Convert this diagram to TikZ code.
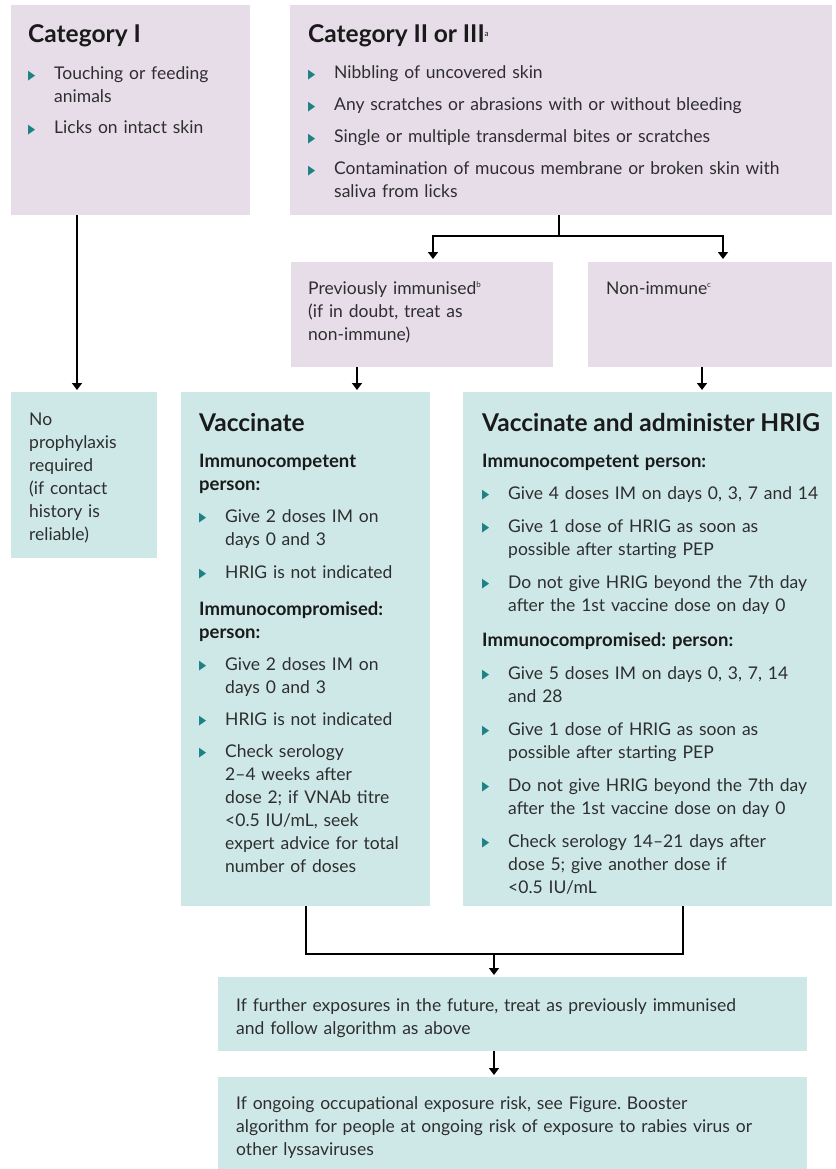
\documentclass[tikz,border=0pt]{standalone}
\usepackage{fontspec}
\usepackage{graphicx}
\setmainfont{Lato}
\newfontfamily\dejavu{DejaVu Sans}
\usetikzlibrary{arrows.meta,calc}
\definecolor{lav}{HTML}{E6DDE9}
\definecolor{tealbg}{HTML}{CEE8E8}
\definecolor{bul}{HTML}{1E8285}
\definecolor{txt}{HTML}{2E2E2E}
\definecolor{hdc}{HTML}{1A1A1A}
\newcommand{\bodyfont}{\fontsize{17.5}{23}\selectfont\frenchspacing}
\newcommand{\bulmark}{\raisebox{0.3pt}{\textcolor{bul}{\scalebox{0.72}[1]{\dejavu\fontsize{13}{13}\selectfont ▶}}}}
\newlength{\bind}\setlength{\bind}{26pt}
\newcommand{\itm}[2][9pt]{\par\vspace{#1}\noindent\hangindent=\bind\hangafter=1\makebox[\bind][l]{\bulmark}#2\par}
\newcommand{\hd}[1]{{\fontsize{24.5}{23}\selectfont\bfseries\color{hdc}#1}}
\newcommand{\sh}[2][14pt]{\par\vspace{#1}\noindent{\fontsize{18.5}{23}\selectfont\bfseries\color{hdc}#2}\par}
\newcommand{\sups}[1]{\raisebox{6.5pt}{\fontsize{8}{8}\selectfont\mdseries #1}}
\begin{document}
\begin{tikzpicture}[x=1pt,y=-1pt,
  lbox/.style={fill=lav, draw=none, inner sep=0, anchor=north west},
  tbox/.style={fill=tealbg, draw=none, inner sep=0, anchor=north west},
  txtn/.style={anchor=base west, inner sep=0, align=left, font=\bodyfont, text=txt},
  conn/.style={line width=1.6pt, draw=black},
  arr/.style={conn, -{Triangle[width=10pt,length=7pt]}}]
\useasboundingbox[fill=white] (0,0) rectangle (835,1169);

% boxes
\node[lbox, minimum width=239, minimum height=210] (cat1) at (11,5) {};
\node[lbox, minimum width=542, minimum height=210] (cat2) at (290,5) {};
\node[lbox, minimum width=262, minimum height=105] (prev) at (291,262) {};
\node[lbox, minimum width=244, minimum height=105] (nonimm) at (588,262) {};
\node[tbox, minimum width=146, minimum height=166] (noproph) at (11,392) {};
\node[tbox, minimum width=249, minimum height=514] (vacc) at (181,392) {};
\node[tbox, minimum width=369, minimum height=514] (hrig) at (463,392) {};
\node[tbox, minimum width=589, minimum height=74] (further) at (218,977) {};
\node[tbox, minimum width=589, minimum height=92] (ongoing) at (218,1077) {};

% texts
\node[txtn, text width=218] (t1) at (28,43) {%
\noindent\hd{Category I}\par
\itm[14pt]{Touching or feeding\newline animals}
\itm[8pt]{Licks on intact skin}};

\node[txtn, text width=520] (t2) at (308,43) {%
\noindent\hd{Category II or III\sups{a}}\par
\itm[13pt]{Nibbling of uncovered skin}
\itm{Any scratches or abrasions with or without bleeding}
\itm{Single or multiple transdermal bites or scratches}
\itm{Contamination of mucous membrane or broken skin with\newline saliva from licks}};

\node[txtn, text width=240] (t3) at (308,294) {Previously immunised\sups{b}\newline (if in doubt, treat as\newline non-immune)};
\node[txtn, text width=220] (t4) at (606,294) {Non-immune\sups{c}};

\node[txtn, text width=125] (t5) at (29,425) {No\newline prophylaxis\newline required\newline (if contact\newline history is\newline reliable)};

\node[txtn, text width=229] (t6) at (199,431) {%
\noindent\hd{Vaccinate}\par
\sh[13pt]{Immunocompetent\newline person:}
\itm{Give 2 doses IM on\newline days 0 and 3}
\itm[10pt]{HRIG is not indicated}
\sh{Immunocompromised:\newline person:}
\itm{Give 2 doses IM on\newline days 0 and 3}
\itm{HRIG is not indicated}
\itm{Check serology\newline 2–4 weeks after\newline dose 2; if VNAb titre\newline <0.5 IU/mL, seek\newline expert advice for total\newline number of doses}};

\node[txtn, text width=350] (t7) at (482,431) {%
\noindent\hd{Vaccinate and administer HRIG}\par
\sh[13pt]{Immunocompetent person:}
\itm{Give 4 doses IM on days 0, 3, 7 and 14}
\itm[10pt]{Give 1 dose of HRIG as soon as\newline possible after starting PEP}
\itm[10pt]{Do not give HRIG beyond the 7th day\newline after the 1st vaccine dose on day 0}
\sh[12pt]{Immunocompromised: person:}
\itm[10pt]{Give 5 doses IM on days 0, 3, 7, 14\newline and 28}
\itm[10pt]{Give 1 dose of HRIG as soon as\newline possible after starting PEP}
\itm[10pt]{Do not give HRIG beyond the 7th day\newline after the 1st vaccine dose on day 0}
\itm[10pt]{Check serology 14–21 days after\newline dose 5; give another dose if\newline <0.5 IU/mL}};

\node[txtn, text width=570] (t8) at (236,1011) {If further exposures in the future, treat as previously immunised\newline and follow algorithm as above};
\node[txtn, text width=570] (t9) at (236,1109) {If ongoing occupational exposure risk, see Figure. Booster\newline algorithm for people at ongoing risk of exposure to rabies virus or\newline other lyssaviruses};

% connectors
\draw[arr, shorten >=2pt] ([xshift=66pt]cat1.south west) -- ([xshift=66pt]cat1.south west |- noproph.north);
\coordinate (j1) at (559,236);
\draw[conn] (cat2.south -| j1) -- (j1);
\draw[arr, shorten >=3pt] (j1) -| ([xshift=142pt]prev.north west);
\draw[arr, shorten >=3pt] (j1) -| ([xshift=135pt]nonimm.north west);
\draw[arr, shorten >=2pt] ([xshift=66pt]prev.south west) -- ([xshift=66pt]prev.south west |- vacc.north);
\draw[arr, shorten >=2pt] ([xshift=114pt]nonimm.south west) -- ([xshift=114pt]nonimm.south west |- hrig.north);
\coordinate (m) at (494,954);
\draw[conn] (vacc.south) |- (m);
\draw[conn] ([xshift=220pt]hrig.south west) |- (m);
\draw[arr, shorten >=2pt] (m) -- (m |- further.north);
\draw[arr, shorten >=2pt] (further.south -| m) -- (m |- ongoing.north);
\end{tikzpicture}
\end{document}
